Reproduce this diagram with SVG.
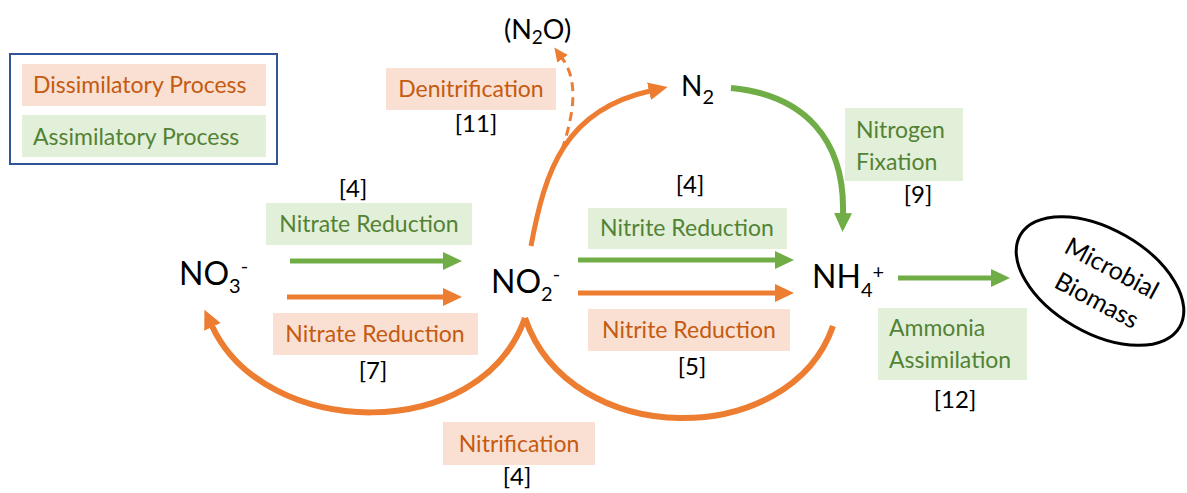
<svg xmlns="http://www.w3.org/2000/svg" width="1187" height="493" viewBox="0 0 1187 493">
<style>
.bg{fill:#ffffff}
.dbox{fill:#F9E0D2}
.abox{fill:#E2F0D9}
.dtxt{fill:#C55A11;font-family:Lato,"Open Sans",sans-serif;font-size:23px}
.atxt{fill:#548235;font-family:Lato,"Open Sans",sans-serif;font-size:23px}
.ref{fill:#000;font-family:Lato,"Open Sans",sans-serif;font-size:24px;text-anchor:middle}
.chem{fill:#000;font-family:Lato,"Open Sans",sans-serif;font-size:32px}
.chem2{fill:#000;font-family:Lato,"Open Sans",sans-serif;font-size:28px}
.chem3{fill:#000;font-family:Lato,"Open Sans",sans-serif;font-size:27px}
.bio{fill:#000;font-family:Lato,"Open Sans",sans-serif;font-size:25px;text-anchor:middle}
.mid{text-anchor:middle}
.or{stroke:#ED7D31;fill:none}
.gr{stroke:#70AD47;fill:none}
</style>
<defs>
<marker id="ao" markerUnits="userSpaceOnUse" markerWidth="20" markerHeight="20" viewBox="0 0 20 20" refX="1" refY="10" orient="auto"><path d="M0,1 L19,10 L0,19 z" fill="#ED7D31"/></marker>
<marker id="ag" markerUnits="userSpaceOnUse" markerWidth="20" markerHeight="20" viewBox="0 0 20 20" refX="1" refY="10" orient="auto"><path d="M0,1 L19,10 L0,19 z" fill="#70AD47"/></marker>
<marker id="aos" markerUnits="userSpaceOnUse" markerWidth="15" markerHeight="15" viewBox="0 0 15 15" refX="1" refY="7.5" orient="auto"><path d="M0,1 L14,7.5 L0,14 z" fill="#ED7D31"/></marker>
</defs>
<rect class="bg" x="0" y="0" width="1187" height="493"/>

<g id="legend">
<rect x="10" y="54" width="267" height="110" fill="none" stroke="#2F5597" stroke-width="2"/>
<rect class="dbox" x="22" y="64" width="244" height="42"/>
<text class="dtxt" x="33" y="93">Dissimilatory Process</text>
<rect class="abox" x="22" y="115" width="244" height="42"/>
<text class="atxt" x="33" y="145">Assimilatory Process</text>
</g>

<g id="connectors">
<line class="gr" x1="290" y1="261" x2="444" y2="261" stroke-width="5" marker-end="url(#ag)"/>
<line class="or" x1="287" y1="297" x2="444" y2="297" stroke-width="5" marker-end="url(#ao)"/>
<line class="gr" x1="578" y1="260" x2="776" y2="260" stroke-width="5" marker-end="url(#ag)"/>
<line class="or" x1="578" y1="293" x2="776" y2="293" stroke-width="5" marker-end="url(#ao)"/>
<line class="gr" x1="898" y1="278" x2="992" y2="278" stroke-width="5" marker-end="url(#ag)"/>
<path class="or" d="M531,246 C545,170 565,110 650,91" stroke-width="5" marker-end="url(#ao)"/>
<path class="or" d="M562,150 C575,110 578,80 562,58" stroke-width="3" stroke-dasharray="9,6" marker-end="url(#aos)"/>
<path class="gr" d="M731,88 C805,95 845,140 843,214" stroke-width="6" marker-end="url(#ag)"/>
<path class="or" d="M525,318 C480,445 265,440 212,326" stroke-width="6" marker-end="url(#ao)"/>
<path class="or" d="M833,326 C790,450 570,450 525,318" stroke-width="6"/>
</g>

<g id="NO3"><text class="chem" x="179" y="285">NO<tspan font-size="20" dy="8">3</tspan><tspan font-size="20" dy="-20">-</tspan></text></g>
<g id="NO2"><text class="chem" x="491" y="293">NO<tspan font-size="20" dy="8">2</tspan><tspan font-size="20" dy="-20">-</tspan></text></g>
<g id="NH4"><text class="chem" x="812" y="288">NH<tspan font-size="20" dy="9">4</tspan><tspan font-size="20" dy="-18">+</tspan></text></g>
<g id="N2"><text class="chem2" x="681" y="96">N<tspan font-size="20" dy="8">2</tspan></text></g>
<g id="N2O"><text class="chem3" x="504" y="39">(N<tspan font-size="19" dy="5">2</tspan><tspan dy="-5">O)</tspan></text></g>

<g id="biomass">
<ellipse cx="1100" cy="281" rx="92" ry="52" transform="rotate(30 1100 281)" fill="#fff" stroke="#000" stroke-width="3"/>
<text class="bio" x="1112" y="277" transform="rotate(28 1112 268)">Microbial</text>
<text class="bio" x="1097" y="309" transform="rotate(28 1097 300)">Biomass</text>
</g>

<g id="nitrate-assim">
<text class="ref" x="353" y="197">[4]</text>
<rect class="abox" x="266" y="203" width="206" height="42"/>
<text class="atxt mid" x="369" y="232">Nitrate Reduction</text>
</g>
<g id="nitrate-dissim">
<rect class="dbox" x="273" y="313" width="205" height="42"/>
<text class="dtxt mid" x="375" y="342">Nitrate Reduction</text>
<text class="ref" x="373" y="379">[7]</text>
</g>
<g id="nitrite-assim">
<text class="ref" x="690" y="193">[4]</text>
<rect class="abox" x="588" y="208" width="199" height="41"/>
<text class="atxt mid" x="687" y="236">Nitrite Reduction</text>
</g>
<g id="nitrite-dissim">
<rect class="dbox" x="588" y="309" width="202" height="42"/>
<text class="dtxt mid" x="689" y="338">Nitrite Reduction</text>
<text class="ref" x="692" y="375">[5]</text>
</g>
<g id="denitrification">
<rect class="dbox" x="386" y="68" width="170" height="42"/>
<text class="dtxt mid" x="471" y="97">Denitrification</text>
<text class="ref" x="476" y="132">[11]</text>
</g>
<g id="fixation">
<rect class="abox" x="845" y="108" width="118" height="73"/>
<text class="atxt" x="856" y="138">Nitrogen</text>
<text class="atxt" x="856" y="170">Fixation</text>
<text class="ref" x="918" y="203">[9]</text>
</g>
<g id="ammonia">
<rect class="abox" x="878" y="308" width="149" height="72"/>
<text class="atxt" x="889" y="336">Ammonia</text>
<text class="atxt" x="889" y="368">Assimilation</text>
<text class="ref" x="955" y="408">[12]</text>
</g>
<g id="nitrification">
<rect class="dbox" x="443" y="422" width="152" height="43"/>
<text class="dtxt mid" x="519" y="452">Nitrification</text>
<text class="ref" x="517" y="485">[4]</text>
</g>
</svg>
